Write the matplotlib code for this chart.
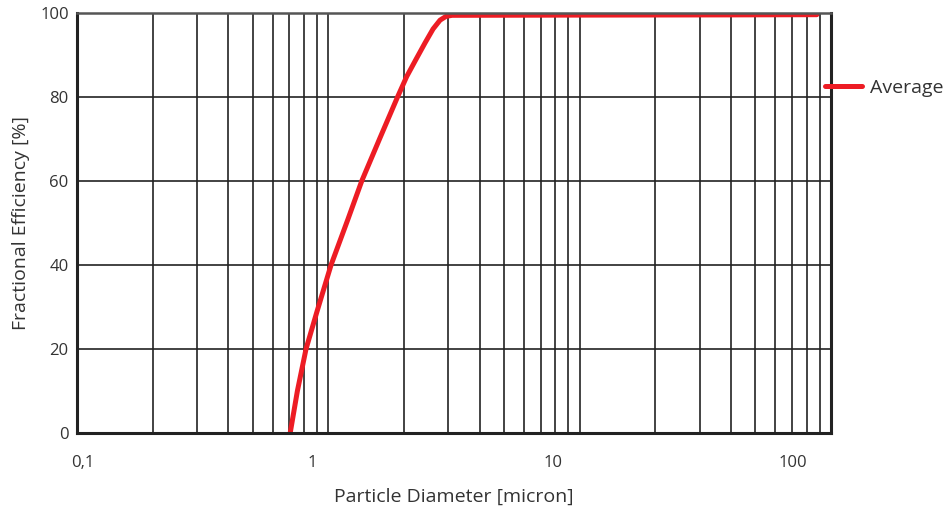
import matplotlib.pyplot as plt
from matplotlib.ticker import LogLocator, NullFormatter, FixedLocator, FixedFormatter
import numpy as np

plt.rcParams['font.family'] = ['Open Sans', 'DejaVu Sans']

# curve (micron, %)
diam = [0.705, 0.753, 0.815, 0.902, 1.025, 1.195, 1.358, 1.606, 1.885,
        2.051, 2.234, 2.426, 2.610, 2.783, 2.940, 3.107, 10, 40, 87.8]
eff = [0, 10, 20, 29, 40, 50.8, 60, 70.3, 80,
       84.9, 89.0, 92.9, 96.2, 98.3, 99.2, 99.45, 99.5, 99.55, 99.6]

# tick labels sit a bit left of the real decades in the reference
tick_pos = [0.1056, 0.861, 7.83, 70.6]
tick_lab = ['0,1', '1', '10', '100']
y_ticks = [0, 20, 40, 60, 80, 100]

red = '#ED1C24'
txt = '#333333'

fig = plt.figure(figsize=(9.52, 5.08), dpi=100)
ax = fig.add_axes([0.0809, 0.1476, 0.792, 0.8268])

ax.plot(diam, eff, color=red, lw=3.6, solid_capstyle='round',
        solid_joinstyle='round', label='Average')

ax.set_xscale('log')
ax.set_xlim(0.1, 100)
ax.set_ylim(0, 100)

ax.xaxis.set_major_locator(FixedLocator(tick_pos))
ax.xaxis.set_major_formatter(FixedFormatter(tick_lab))
ax.xaxis.set_minor_locator(LogLocator(base=10, subs=np.arange(1, 10)))
ax.xaxis.set_minor_formatter(NullFormatter())
ax.set_yticks(y_ticks)

ax.tick_params(which='both', length=0, colors=txt, labelsize=12)
ax.tick_params(axis='x', pad=16)
ax.tick_params(axis='y', pad=6)

ax.xaxis.grid(True, which='minor', color='#222222', lw=1.2)
ax.xaxis.grid(False, which='major')
ax.yaxis.grid(True, which='major', color='#222222', lw=1.2)
ax.set_axisbelow(True)

for s in ax.spines.values():
    s.set_color('#222222')
    s.set_linewidth(2.2)
ax.spines['top'].set_color('#555555')
ax.spines['top'].set_linewidth(1.8)

ax.set_xlabel('Particle Diameter [micron]', fontsize=14, color=txt, labelpad=12)
ax.set_ylabel('Fractional Efficiency [%]', fontsize=14, color=txt, labelpad=7)

ax.legend(loc='center left', bbox_to_anchor=(0.992, 0.822), frameon=False,
          fontsize=14, handlelength=1.9, handletextpad=0.4, borderpad=0,
          borderaxespad=0, labelcolor=txt)

fig.savefig('out.png', dpi=100)
